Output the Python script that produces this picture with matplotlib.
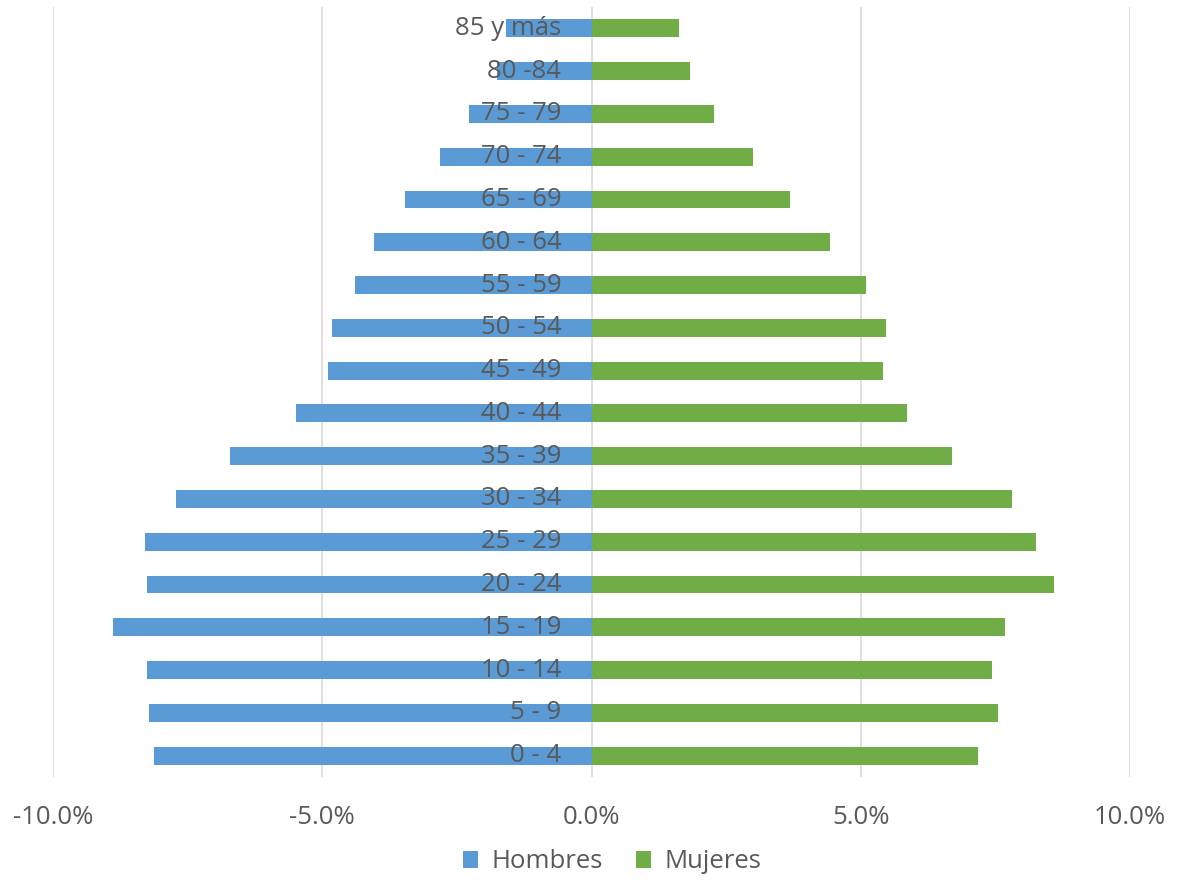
import matplotlib
matplotlib.use("Agg")
import matplotlib.pyplot as plt
from matplotlib.ticker import FuncFormatter

# age groups, bottom to top
groups = ["0 - 4", "5 - 9", "10 - 14", "15 - 19", "20 - 24", "25 - 29", "30 - 34",
          "35 - 39", "40 - 44", "45 - 49", "50 - 54", "55 - 59", "60 - 64",
          "65 - 69", "70 - 74", "75 - 79", "80 -84", "85 y más"]
hombres = [8.13, 8.21, 8.26, 8.89, 8.25, 8.30, 7.72, 6.72, 5.48, 4.90, 4.81,
           4.40, 4.03, 3.47, 2.82, 2.27, 1.75, 1.58]
mujeres = [7.17, 7.54, 7.43, 7.67, 8.58, 8.26, 7.80, 6.69, 5.85, 5.42, 5.46,
           5.09, 4.42, 3.68, 2.99, 2.27, 1.82, 1.62]

BLUE, GREEN = "#5b9bd5", "#70ad47"
TXT, GRID = "#595959", "#d9d9d9"
plt.rcParams["font.family"] = ["Open Sans", "DejaVu Sans"]

fig = plt.figure(figsize=(11.78, 8.82), dpi=100)
ax = fig.add_axes([53 / 1178, 1 - 777 / 882, (1130 - 53) / 1178, (777 - 7) / 882])

y = range(len(groups))
ax.barh(y, [-v / 100 for v in hombres], height=0.42, color=BLUE, zorder=2, label="Hombres")
ax.barh(y, [v / 100 for v in mujeres], height=0.42, color=GREEN, zorder=2, label="Mujeres")

for i, g in enumerate(groups):
    ax.text(-0.0056, i, g, ha="right", va="center", fontsize=18.5, color=TXT, zorder=3)

ax.set_xlim(-0.1, 0.1)
ax.set_ylim(-0.5, len(groups) - 0.5)
ax.set_xticks([-0.1, -0.05, 0, 0.05, 0.1])
ax.xaxis.set_major_formatter(FuncFormatter(lambda v, _: f"{v * 100:.1f}%"))
ax.tick_params(axis="x", length=0, pad=20, labelsize=18.5, labelcolor=TXT)
ax.set_yticks([])
ax.xaxis.grid(True, color=GRID, lw=1.2, zorder=0)
ax.set_axisbelow(True)
for sp in ax.spines.values():
    sp.set_visible(False)

fig.legend(loc="center", bbox_to_anchor=(612 / 1178, 1 - 862 / 882), ncol=2,
           frameon=False, fontsize=18.5, handlelength=0.6, handleheight=0.6,
           columnspacing=1.3, handletextpad=0.5, labelcolor=TXT)

fig.savefig("out.png", dpi=100, facecolor="white")
